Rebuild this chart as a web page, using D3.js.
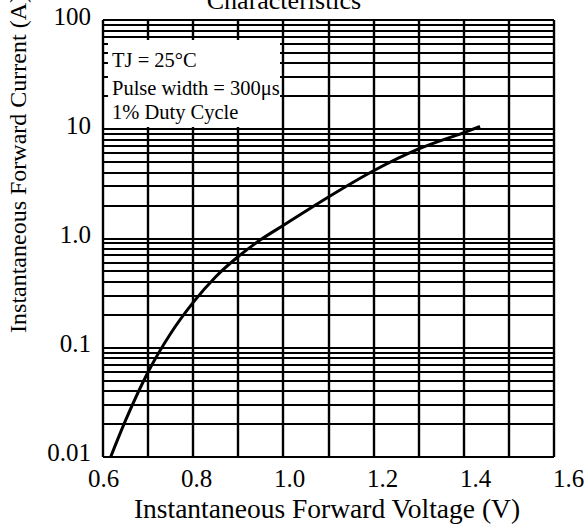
<!DOCTYPE html>
<html>
<head>
<meta charset="utf-8">
<script src="https://cdn.jsdelivr.net/npm/d3@7"></script>
<style>
  body { margin: 0; background: #fff; }
  svg { display: block; font-family: "Liberation Serif", "Times New Roman", serif; }
</style>
</head>
<body>
<svg id="chart" width="587" height="524"></svg>
<script>
"use strict";

// forward voltage (V) vs instantaneous current (A)
var voltage = [0.617, 0.65, 0.70, 0.75, 0.80, 0.85, 0.90, 0.95, 1.00, 1.10, 1.20, 1.30, 1.40, 1.436];
var current = [0.010, 0.0216, 0.060, 0.135, 0.26, 0.447, 0.684, 0.977, 1.32, 2.4, 4.17, 6.6, 9.33, 10.6];

var xTickValues = [0.6, 0.8, 1.0, 1.2, 1.4, 1.6];
var xTickLabels = ["0.6", "0.8", "1.0", "1.2", "1.4", "1.6"];
var yTickValues = [0.01, 0.1, 1, 10, 100];
var yTickLabels = ["0.01", "0.1", "1.0", "10", "100"];
var notes = ["TJ = 25°C", "Pulse width = 300μs", "1% Duty Cycle"];

var svg = d3.select("#chart");

var x = d3.scaleLinear().domain([0.6, 1.6]).range([103, 554]);
var y = d3.scaleLog().domain([0.01, 100]).range([457, 20]);
// the printed labels drift a little from the grid lines
var xLabel = d3.scaleLinear().domain([0.6, 1.6]).range([103, 568]);
var yLabel = d3.scaleLog().domain([0.01, 100]).range([452, 16]);

var grid = svg.append("g").attr("class", "grid");

grid.selectAll(".hline")
  .data(y.ticks())
  .enter().append("line")
    .attr("class", "hline")
    .attr("x1", x(0.6)).attr("x2", x(1.6))
    .attr("y1", function(d) { return Math.round(y(d)); })
    .attr("y2", function(d) { return Math.round(y(d)); })
    .attr("stroke", "#000").attr("stroke-width", 2);

grid.selectAll(".vline")
  .data(d3.range(6, 17).map(function(d) { return d / 10; }))
  .enter().append("line")
    .attr("class", "vline")
    .attr("x1", function(d) { return Math.round(x(d)); })
    .attr("x2", function(d) { return Math.round(x(d)); })
    .attr("y1", y(100)).attr("y2", y(0.01))
    .attr("stroke", "#000").attr("stroke-width", 2.4);

// white note box sits over the grid
svg.append("rect")
  .attr("x", 108).attr("y", 40)
  .attr("width", 172).attr("height", 87)
  .attr("fill", "#fff");

svg.selectAll(".note")
  .data(notes)
  .enter().append("text")
    .attr("class", "note")
    .attr("x", 112)
    .attr("y", function(d, i) { return [67, 95, 119][i]; })
    .attr("font-size", 20.5)
    .text(function(d) { return d; });

var line = d3.line()
  .x(function(d) { return x(d[0]); })
  .y(function(d) { return y(d[1]); })
  .curve(d3.curveMonotoneX);

svg.append("path")
  .datum(d3.zip(voltage, current))
  .attr("fill", "none")
  .attr("stroke", "#000")
  .attr("stroke-width", 3)
  .attr("d", line);

// tick labels
var xAxis = d3.axisBottom(xLabel)
  .tickValues(xTickValues)
  .tickSize(0)
  .tickFormat(function(d, i) { return xTickLabels[i]; });

svg.append("g")
  .attr("transform", "translate(0,466)")
  .call(xAxis)
  .call(function(g) { g.select(".domain").remove(); })
  .selectAll("text")
    .attr("font-family", "Liberation Serif")
    .attr("font-size", 25)
    .attr("fill", "#000")
    .attr("dy", "0.71em");

var yAxis = d3.axisLeft(yLabel)
  .tickValues(yTickValues)
  .tickSize(0)
  .tickFormat(function(d, i) { return yTickLabels[i]; });

svg.append("g")
  .attr("transform", "translate(91,0)")
  .call(yAxis)
  .call(function(g) { g.select(".domain").remove(); })
  .selectAll("text")
    .attr("font-family", "Liberation Serif")
    .attr("font-size", 25)
    .attr("fill", "#000")
    .attr("x", 0)
    .attr("dy", "0.35em");

// titles
svg.append("text")
  .attr("x", 284).attr("y", 9)
  .attr("text-anchor", "middle")
  .attr("font-size", 26)
  .text("Characteristics");

svg.append("text")
  .attr("x", 327).attr("y", 518)
  .attr("text-anchor", "middle")
  .attr("font-size", 27.5)
  .text("Instantaneous Forward Voltage (V)");

svg.append("text")
  .attr("transform", "translate(26,164) rotate(-90)")
  .attr("text-anchor", "middle")
  .attr("font-size", 24)
  .text("Instantaneous Forward Current (A)");
</script>
</body>
</html>
